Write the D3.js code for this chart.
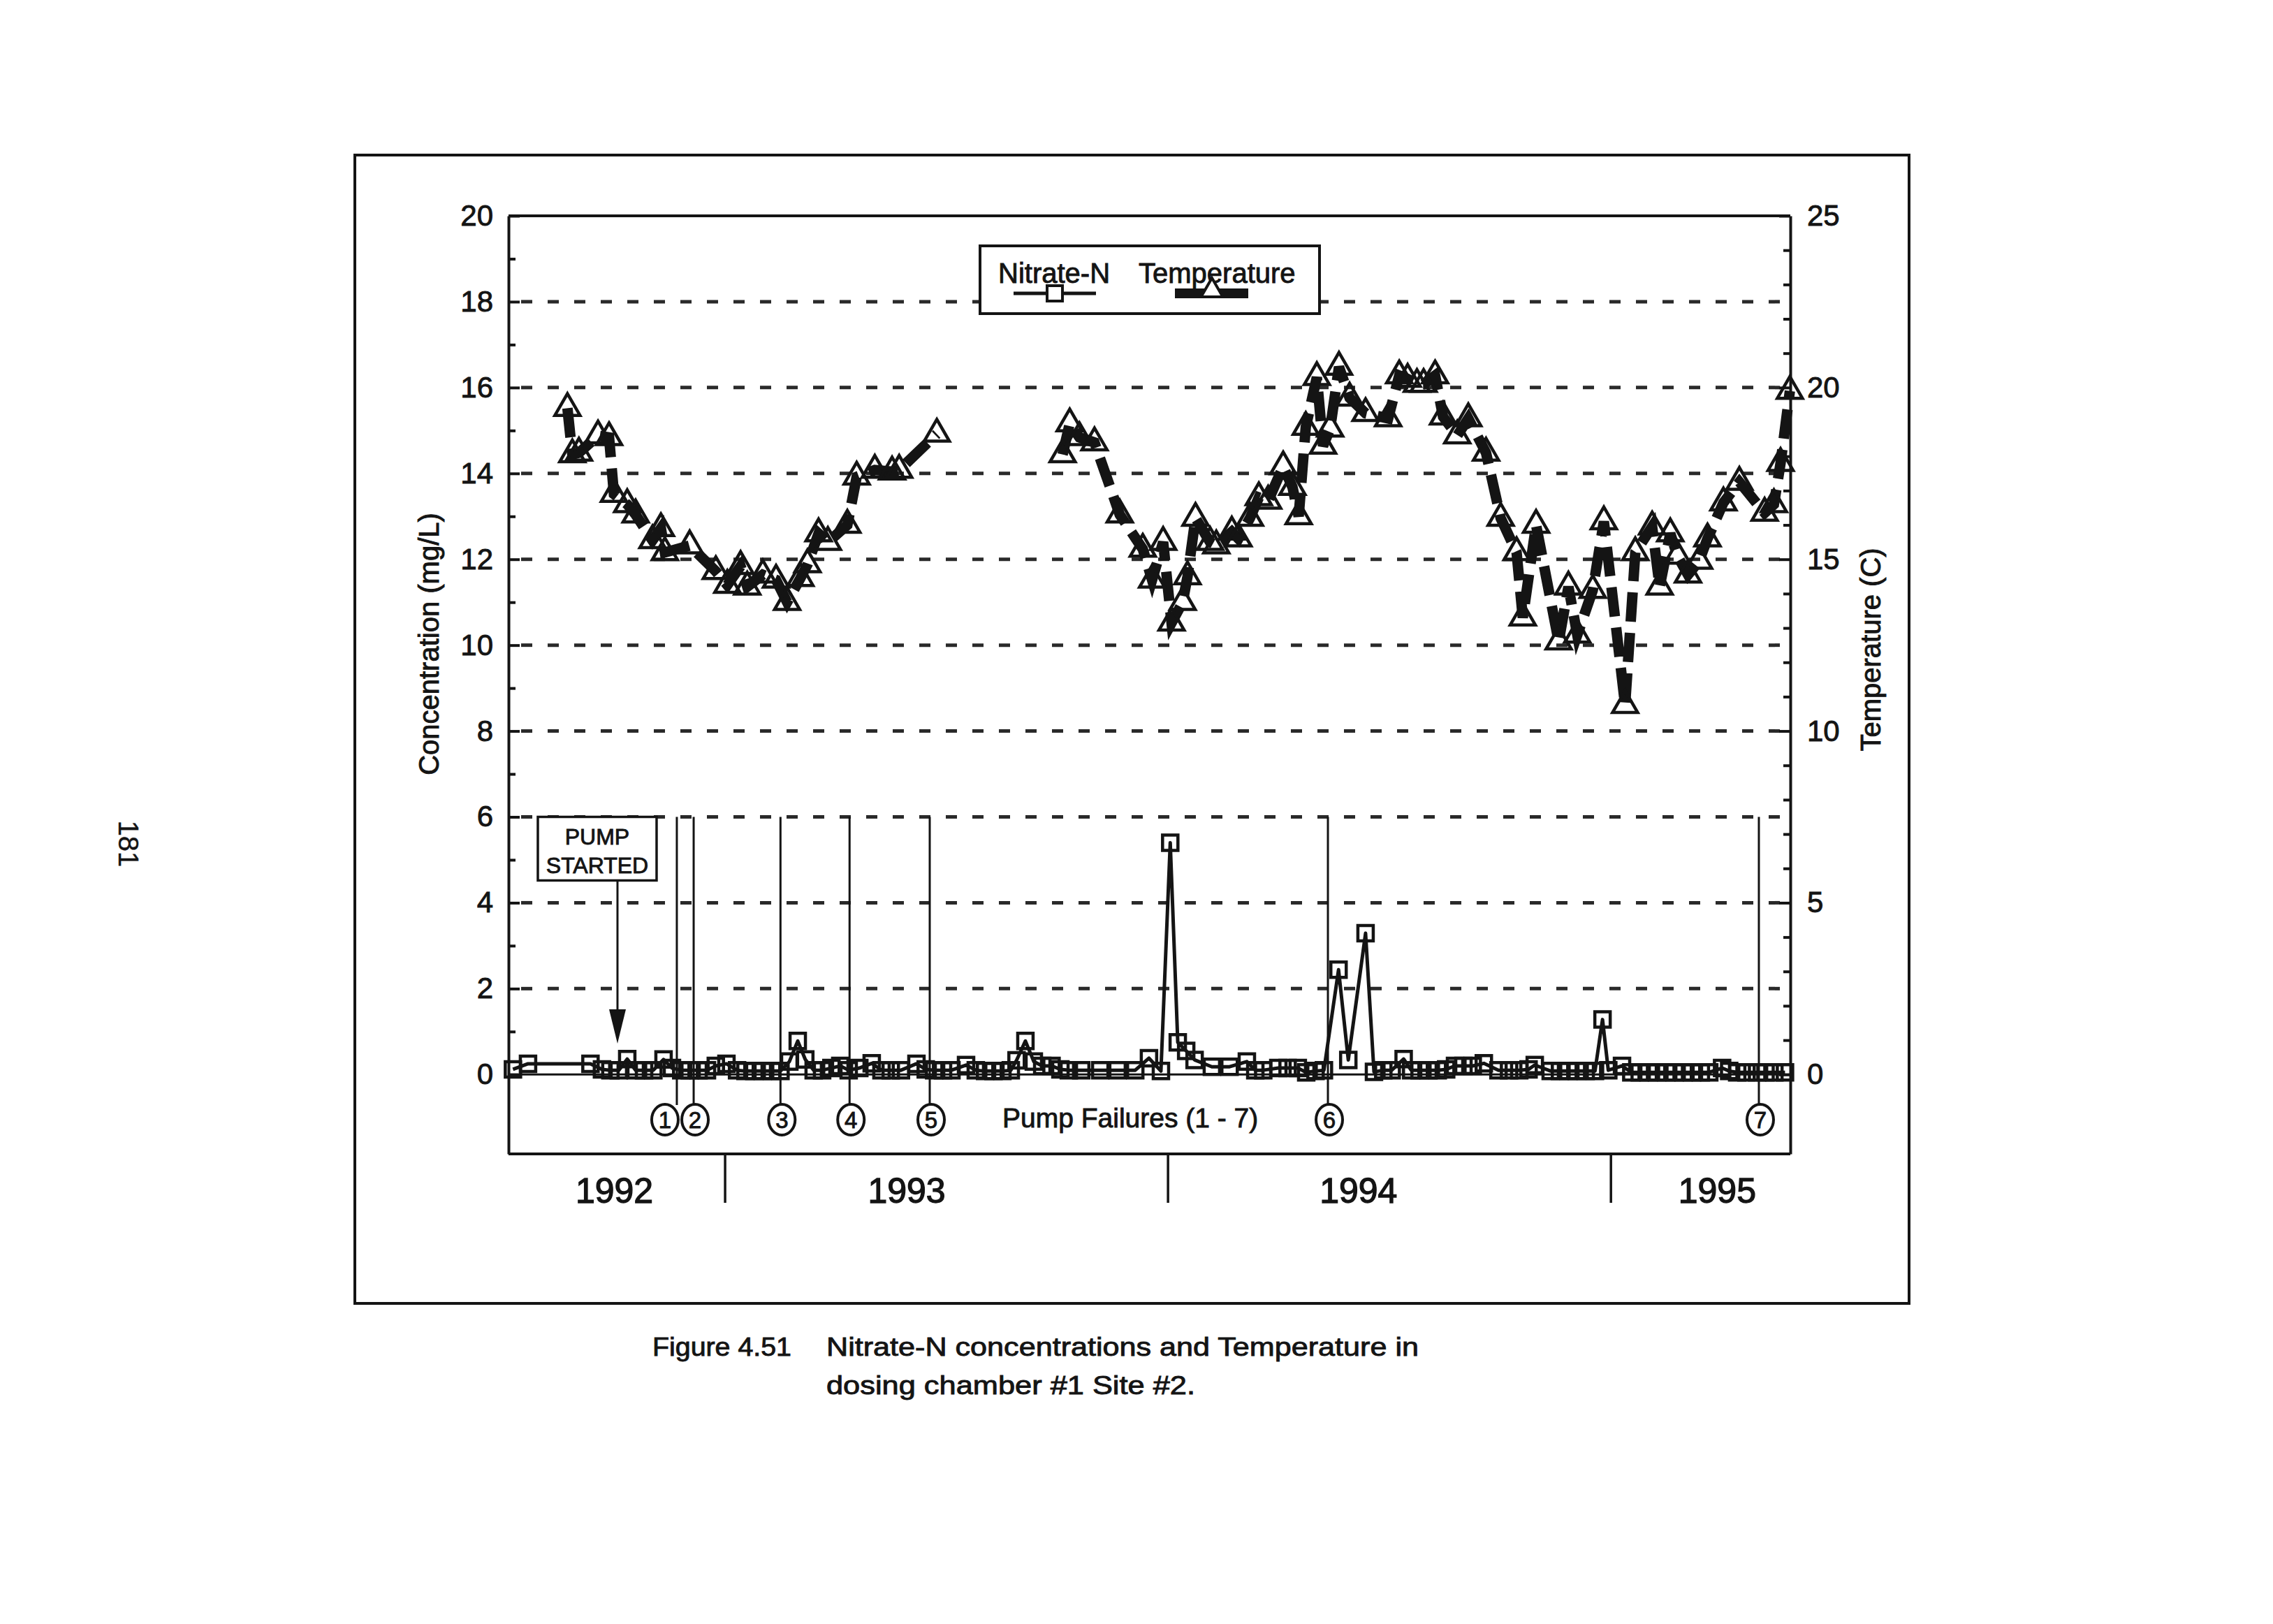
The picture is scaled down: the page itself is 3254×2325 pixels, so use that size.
<!DOCTYPE html>
<html>
<head>
<meta charset="utf-8">
<script src="https://cdn.jsdelivr.net/npm/d3@7/dist/d3.min.js"></script>
<style>
  body { margin: 0; background: #fff; }
  text { font-family: "Liberation Sans", Arial, Helvetica, sans-serif; fill: #141414; stroke: #141414; stroke-width: 0.9px; }
</style>
</head>
<body>
<script>
const width = 3254,
      height = 2325;

// sampling dates as decimal years
// temperature (C), null = no samples (line broken)
const tempTime = [
  1992.644, 1992.655, 1992.670, 1992.713, 1992.738, 1992.749, 1992.779, 1992.798,
  1992.836, 1992.855, 1992.864, 1992.920, 1992.979, 1993.005, 1993.035, 1993.050,
  1993.085, 1993.115, 1993.140, 1993.170, 1993.186, 1993.211, 1993.232, 1993.276,
  1993.297, 1993.338, 1993.377, 1993.393, 1993.478,
  1993.620,
  1993.762, 1993.778, 1993.800, 1993.834, 1993.891, 1993.943, 1993.964, 1993.989,
  1994.008, 1994.033, 1994.044, 1994.062, 1994.095, 1994.109, 1994.144, 1994.159,
  1994.185, 1994.205, 1994.226, 1994.260, 1994.281, 1994.295, 1994.311, 1994.336,
  1994.350, 1994.366, 1994.386, 1994.410, 1994.446, 1994.497, 1994.522, 1994.541,
  1994.562, 1994.577, 1994.603, 1994.621, 1994.653, 1994.678, 1994.718, 1994.751,
  1994.787, 1994.801, 1994.831, 1994.882, 1994.904, 1994.924, 1994.959, 1994.984,
  1995.032, 1995.055, 1995.093, 1995.110, 1995.134, 1995.150, 1995.174, 1995.199,
  1995.218, 1995.254, 1995.290, 1995.347, 1995.368, 1995.383, 1995.404
];
const tempValue = [
  19.4, 18.05, 18.1, 18.6, 18.55, 16.9, 16.6, 16.3,
  15.55, 15.9, 15.2, 15.4, 14.65, 14.25, 14.8, 14.2,
  14.55, 14.4, 13.75, 14.45, 14.85, 15.75, 15.5, 16.0,
  17.4, 17.6, 17.55, 17.6, 18.65,
  null,
  18.05, 18.95, 18.55, 18.4, 16.3, 15.3, 14.4, 15.5,
  13.15, 13.75, 14.5, 16.2, 15.5, 15.4, 15.8, 15.6,
  16.2, 16.8, 16.7, 17.7, 17.1, 16.25, 18.85, 20.3,
  18.3, 18.8, 20.6, 19.7, 19.25, 19.1, 20.35, 20.25,
  20.1, 20.1, 20.35, 19.15, 18.6, 19.1, 18.1, 16.2,
  15.2, 13.3, 16.0, 12.6, 14.2, 12.8, 14.1, 16.1,
  10.75, 15.2, 15.95, 14.2, 15.75, 15.1, 14.55, 14.95,
  15.6, 16.65, 17.25, 16.35, 16.6, 17.8, 19.9
];

// nitrate-N (mg/L)
const nitrateTime = [
  1992.521, 1992.555, 1992.696, 1992.722, 1992.741, 1992.760, 1992.779, 1992.798,
  1992.817, 1992.838, 1992.861, 1992.880, 1992.901, 1992.920, 1992.940, 1992.959,
  1992.979, 1993.003, 1993.027, 1993.046, 1993.066, 1993.085, 1993.106, 1993.125,
  1993.145, 1993.164, 1993.181, 1993.200, 1993.219, 1993.240, 1993.260, 1993.279,
  1993.303, 1993.331, 1993.353, 1993.374, 1993.397, 1993.432, 1993.453, 1993.472,
  1993.492, 1993.511, 1993.544, 1993.566, 1993.587, 1993.606, 1993.626, 1993.645,
  1993.658, 1993.678, 1993.697, 1993.716, 1993.737, 1993.757, 1993.776, 1993.804,
  1993.847, 1993.886, 1993.926, 1993.957, 1993.984, 1994.005, 1994.022, 1994.041,
  1994.060, 1994.099, 1994.139, 1994.178, 1994.197, 1994.215, 1994.249, 1994.270,
  1994.293, 1994.312, 1994.333, 1994.352, 1994.385, 1994.407, 1994.446, 1994.465,
  1994.486, 1994.505, 1994.532, 1994.549, 1994.568, 1994.588, 1994.609, 1994.628,
  1994.648, 1994.667, 1994.688, 1994.713, 1994.746, 1994.770, 1994.793, 1994.814,
  1994.828, 1994.864, 1994.885, 1994.904, 1994.923, 1994.943, 1994.964, 1994.981,
  1994.994, 1995.025, 1995.046, 1995.065, 1995.085, 1995.104, 1995.125, 1995.144,
  1995.164, 1995.183, 1995.203, 1995.222, 1995.251, 1995.267, 1995.285, 1995.306,
  1995.330, 1995.349, 1995.369, 1995.393
];
const nitrateValue = [
  0.12, 0.25, 0.25, 0.12, 0.10, 0.10, 0.36, 0.10,
  0.10, 0.10, 0.35, 0.15, 0.10, 0.10, 0.10, 0.10,
  0.20, 0.25, 0.10, 0.08, 0.08, 0.08, 0.08, 0.08,
  0.30, 0.78, 0.35, 0.10, 0.10, 0.15, 0.20, 0.10,
  0.15, 0.26, 0.10, 0.10, 0.10, 0.25, 0.12, 0.10,
  0.10, 0.10, 0.22, 0.10, 0.08, 0.08, 0.08, 0.10,
  0.33, 0.78, 0.30, 0.20, 0.20, 0.12, 0.10, 0.10,
  0.10, 0.10, 0.10, 0.38, 0.08, 5.40, 0.75, 0.55,
  0.34, 0.18, 0.18, 0.30, 0.10, 0.10, 0.15, 0.15,
  0.15, 0.05, 0.08, 0.10, 2.44, 0.34, 3.29, 0.06,
  0.10, 0.10, 0.36, 0.10, 0.10, 0.10, 0.10, 0.12,
  0.20, 0.20, 0.20, 0.26, 0.10, 0.10, 0.10, 0.12,
  0.22, 0.08, 0.08, 0.08, 0.08, 0.08, 0.08, 1.28,
  0.10, 0.20, 0.05, 0.05, 0.05, 0.05, 0.05, 0.05,
  0.05, 0.05, 0.05, 0.05, 0.15, 0.08, 0.05, 0.05,
  0.05, 0.05, 0.05, 0.05
];

// pump failures 1 - 7
const failureTime = [1992.891, 1992.929, 1993.125, 1993.281, 1993.462, 1994.361, 1995.334];
const failureLabel = ["1", "2", "3", "4", "5", "6", "7"];
const pumpStartTime = 1992.757;

const yearLabel = ["1992", "1993", "1994", "1995"];
const yearLabelTime = [1992.75, 1993.41, 1994.43, 1995.24];
const yearBreak = [1993, 1994, 1995];

const concTicks = [0, 2, 4, 6, 8, 10, 12, 14, 16, 18, 20];
const concMinor = [1, 3, 5, 7, 9, 11, 13, 15, 17, 19];
const concGrid = [2, 4, 6, 8, 10, 12, 14, 16, 18];
const tempTicks = [0, 5, 10, 15, 20, 25];
const tempMinor = [1, 2, 3, 4, 6, 7, 8, 9, 11, 12, 13, 14, 16, 17, 18, 19, 21, 22, 23, 24];

const temps = tempTime.map((t, i) => ({t: t, v: tempValue[i]}));
const nitrate = nitrateTime.map((t, i) => ({t: t, v: nitrateValue[i]}));

const svg = d3.select('body').append('svg')
  .attr('width', width)
  .attr('height', height);

svg.append('rect').attr('width', width).attr('height', height).attr('fill', '#fff');

const plot = {left: 728, right: 2563, top: 309, bottom: 1652};

const x = d3.scaleLinear()
  .domain([1992.511, 1995.405])
  .range([plot.left, plot.right]);
const yC = d3.scaleLinear()
  .domain([-1.85, 20])
  .range([plot.bottom, plot.top]);
const yT = d3.scaleLinear()
  .domain([-2.3125, 25])
  .range([plot.bottom, plot.top]);

const ink = '#141414';

// outer frame
svg.append('rect')
  .attr('x', 508).attr('y', 222)
  .attr('width', 2225).attr('height', 1644)
  .attr('fill', 'none').attr('stroke', ink).attr('stroke-width', 4);

// dashed grid
svg.append('g').selectAll('line')
  .data(concGrid)
  .enter()
  .append('line')
    .attr('x1', plot.left).attr('x2', plot.right)
    .attr('y1', d => yC(d)).attr('y2', d => yC(d))
    .attr('stroke', '#2a2a2a')
    .attr('stroke-width', 5)
    .attr('stroke-dasharray', '16 22')
    .attr('stroke-dashoffset', -18);

// zero line
svg.append('line')
  .attr('x1', plot.left).attr('x2', plot.right)
  .attr('y1', yC(0)).attr('y2', yC(0))
  .attr('stroke', ink).attr('stroke-width', 3);

// plot box top and bottom
svg.append('line')
  .attr('x1', plot.left).attr('x2', plot.right)
  .attr('y1', plot.top).attr('y2', plot.top)
  .attr('stroke', ink).attr('stroke-width', 4);
svg.append('line')
  .attr('x1', plot.left).attr('x2', plot.right)
  .attr('y1', plot.bottom).attr('y2', plot.bottom)
  .attr('stroke', ink).attr('stroke-width', 4);

// left axis
svg.append('g')
  .attr('transform', 'translate(' + plot.left + ',0)')
  .call(d3.axisLeft(yC).tickValues(concTicks).tickSize(-16).tickSizeOuter(0).tickPadding(22));
svg.append('g')
  .attr('transform', 'translate(' + plot.left + ',0)')
  .call(d3.axisLeft(yC).tickValues(concMinor).tickSize(-10).tickSizeOuter(0).tickFormat(''))
  .select('.domain').remove();

// right axis
svg.append('g')
  .attr('transform', 'translate(' + plot.right + ',0)')
  .call(d3.axisRight(yT).tickValues(tempTicks).tickSize(-16).tickSizeOuter(0).tickPadding(24));
svg.append('g')
  .attr('transform', 'translate(' + plot.right + ',0)')
  .call(d3.axisRight(yT).tickValues(tempMinor).tickSize(-10).tickSizeOuter(0).tickFormat(''))
  .select('.domain').remove();

svg.selectAll('.domain').attr('stroke', ink).attr('stroke-width', 4);
svg.selectAll('.tick line').attr('stroke', ink).attr('stroke-width', 4);
svg.selectAll('.tick text')
  .attr('font-size', 42)
  .attr('font-family', '"Liberation Sans", Arial, sans-serif')
  .attr('fill', ink);

// axis titles
svg.append('text')
  .attr('transform', 'translate(628,922) rotate(-90)')
  .attr('text-anchor', 'middle')
  .attr('font-size', 40)
  .text('Concentration (mg/L)');
svg.append('text')
  .attr('transform', 'translate(2692,930) rotate(-90)')
  .attr('text-anchor', 'middle')
  .attr('font-size', 40)
  .text('Temperature (C)');

// year breaks and labels
svg.append('g').selectAll('line')
  .data(yearBreak)
  .enter()
  .append('line')
    .attr('x1', d => x(d)).attr('x2', d => x(d))
    .attr('y1', plot.bottom + 2).attr('y2', 1722)
    .attr('stroke', ink).attr('stroke-width', 3.5);
svg.append('g').selectAll('text')
  .data(yearLabel)
  .enter()
  .append('text')
    .attr('x', (d, i) => x(yearLabelTime[i]))
    .attr('y', 1722)
    .attr('text-anchor', 'middle')
    .attr('font-size', 50)
    .style('stroke-width', '1.3px')
    .text(d => d);

// pump failure markers
const failY = 1603;
const fail = svg.append('g');
fail.selectAll('line')
  .data(failureTime)
  .enter()
  .append('line')
    .attr('x1', d => x(d)).attr('x2', d => x(d))
    .attr('y1', yC(6)).attr('y2', failY - 21)
    .attr('stroke', ink).attr('stroke-width', 3);
const failCircle = fail.selectAll('g.fc')
  .data(failureTime)
  .enter()
  .append('g')
    .attr('class', 'fc')
    .attr('transform', (d, i) => 'translate(' + (x(d) + (i === 0 ? -17 : 2)) + ',' + failY + ')');
failCircle.append('ellipse')
  .attr('rx', 19).attr('ry', 22)
  .attr('fill', '#fff').attr('stroke', ink).attr('stroke-width', 4);
failCircle.append('text')
  .attr('text-anchor', 'middle')
  .attr('dy', '0.36em')
  .attr('font-size', 33)
  .text((d, i) => failureLabel[i]);

svg.append('text')
  .attr('x', 1435).attr('y', 1614)
  .attr('font-size', 39)
  .text('Pump Failures (1 - 7)');

// pump started callout
const px = x(pumpStartTime);
svg.append('rect')
  .attr('x', px - 114).attr('y', yC(6))
  .attr('width', 170).attr('height', 91)
  .attr('fill', '#fff').attr('stroke', ink).attr('stroke-width', 3.5);
svg.append('text')
  .attr('x', px - 29).attr('y', yC(6) + 39)
  .attr('text-anchor', 'middle').attr('font-size', 32)
  .text('PUMP');
svg.append('text')
  .attr('x', px - 29).attr('y', yC(6) + 80)
  .attr('text-anchor', 'middle').attr('font-size', 32)
  .text('STARTED');
svg.append('line')
  .attr('x1', px).attr('x2', px)
  .attr('y1', yC(6) + 91).attr('y2', 1450)
  .attr('stroke', ink).attr('stroke-width', 3);
svg.append('path')
  .attr('d', d3.line()([[px - 12, 1445], [px + 12, 1445], [px, 1494]]) + 'Z')
  .attr('fill', ink);

// temperature series
const tempLine = d3.line()
  .defined(d => d.v !== null)
  .x(d => x(d.t))
  .y(d => yT(d.v));
svg.append('path')
  .datum(temps)
  .attr('d', tempLine)
  .attr('fill', 'none')
  .attr('stroke', ink)
  .attr('stroke-width', 15)
  .attr('stroke-dasharray', '42 16');

const tri = d3.symbol().type(d3.symbolTriangle).size(560);
svg.append('g').selectAll('path')
  .data(temps.filter(d => d.v !== null))
  .enter()
  .append('path')
    .attr('transform', d => 'translate(' + x(d.t) + ',' + yT(d.v) + ')')
    .attr('d', tri)
    .attr('fill', 'none')
    .attr('stroke', ink)
    .attr('stroke-width', 4.5);

// nitrate series
const nitLine = d3.line()
  .x(d => x(d.t))
  .y(d => yC(d.v));
svg.append('path')
  .datum(nitrate)
  .attr('d', nitLine)
  .attr('fill', 'none')
  .attr('stroke', ink)
  .attr('stroke-width', 5)
  .attr('stroke-linejoin', 'round');

const sq = d3.symbol().type(d3.symbolSquare).size(22 * 22);
svg.append('g').selectAll('path')
  .data(nitrate)
  .enter()
  .append('path')
    .attr('transform', d => 'translate(' + x(d.t) + ',' + yC(d.v) + ')')
    .attr('d', sq)
    .attr('fill', 'none')
    .attr('stroke', ink)
    .attr('stroke-width', 4.5);

// legend
const legend = svg.append('g');
legend.append('rect')
  .attr('x', 1403).attr('y', 352)
  .attr('width', 486).attr('height', 97)
  .attr('fill', '#fff').attr('stroke', ink).attr('stroke-width', 4);
legend.append('text')
  .attr('x', 1429).attr('y', 405)
  .attr('font-size', 40)
  .text('Nitrate-N');
legend.append('text')
  .attr('x', 1630).attr('y', 405)
  .attr('font-size', 40)
  .text('Temperature');
legend.append('line')
  .attr('x1', 1451).attr('x2', 1569)
  .attr('y1', 420).attr('y2', 420)
  .attr('stroke', ink).attr('stroke-width', 5);
legend.append('path')
  .attr('transform', 'translate(1510,420)')
  .attr('d', d3.symbol().type(d3.symbolSquare).size(22 * 22))
  .attr('fill', '#fff').attr('stroke', ink).attr('stroke-width', 4);
legend.append('line')
  .attr('x1', 1682).attr('x2', 1787)
  .attr('y1', 420).attr('y2', 420)
  .attr('stroke', ink).attr('stroke-width', 14);
legend.append('path')
  .attr('transform', 'translate(1735,416)')
  .attr('d', d3.symbol().type(d3.symbolTriangle).size(420))
  .attr('fill', '#fff').attr('stroke', ink).attr('stroke-width', 4);

// caption
const caption = svg.append('g').style('stroke-width', '1.2px');
caption.append('text')
  .attr('x', 934).attr('y', 1941)
  .attr('font-size', 37)
  .attr('textLength', 199).attr('lengthAdjust', 'spacingAndGlyphs')
  .text('Figure 4.51');
caption.append('text')
  .attr('x', 1183).attr('y', 1941)
  .attr('font-size', 37)
  .attr('textLength', 848).attr('lengthAdjust', 'spacingAndGlyphs')
  .text('Nitrate-N concentrations and Temperature in');
caption.append('text')
  .attr('x', 1183).attr('y', 1996)
  .attr('font-size', 37)
  .attr('textLength', 528).attr('lengthAdjust', 'spacingAndGlyphs')
  .text('dosing chamber #1 Site #2.');

// page number
svg.append('text')
  .attr('transform', 'translate(170,1208) rotate(90)')
  .attr('text-anchor', 'middle')
  .attr('font-size', 40)
  .style('stroke-width', '0.4px')
  .text('181');
</script>
</body>
</html>
